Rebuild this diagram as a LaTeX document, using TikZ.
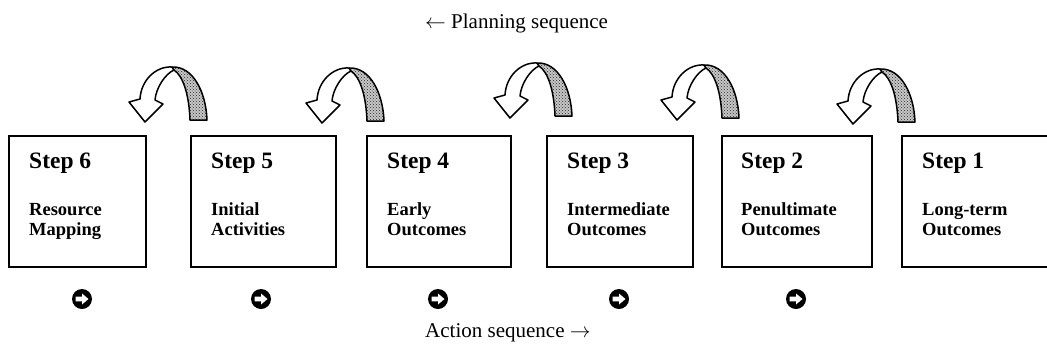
\documentclass[tikz,border=0pt]{standalone}
\usepackage{fontspec}
\setmainfont{Liberation Serif}
\usetikzlibrary{patterns}
\begin{document}
\begin{tikzpicture}[x=1pt,y=-1pt,
  stepbox/.style={draw=black, line width=1.6pt, minimum height=131pt, anchor=north west, inner sep=0pt},
  steptitle/.style={anchor=base west, inner sep=0pt, font=\fontsize{23.5}{26}\selectfont\bfseries},
  stepsub/.style={anchor=base west, inner sep=0pt, align=left, font=\fontsize{18.5}{20}\selectfont\bfseries},
  seqlabel/.style={anchor=base west, inner sep=0pt, font=\fontsize{21}{24}\selectfont},
  actdot/.style={circle, fill=black, minimum size=20pt, inner sep=0pt},
  uturn/.pic={
    \filldraw[fill=white, line width=1.5pt, line join=round]
      (27,-55) .. controls (11,-56) and (-4,-42) .. (-5,-23) -- (-16,-20) -- (0,0) -- (18,-18) -- (10,-22)
      .. controls (11,-34) and (20,-48) .. (29,-52) -- cycle;
    \fill[black!22]
      (27,-55) .. controls (48,-56) and (61,-30) .. (62,-2) -- (45,-2)
      .. controls (44,-28) and (38,-46) .. (29,-52) -- cycle;
    \filldraw[pattern=crosshatch dots, pattern color=black!85, line width=1.5pt, line join=round]
      (27,-55) .. controls (48,-56) and (61,-30) .. (62,-2) -- (45,-2)
      .. controls (44,-28) and (38,-46) .. (29,-52) -- cycle;
  }
]
\useasboundingbox (0,0) rectangle (1047,349);
\clip (0,0) rectangle (1047,349);

% labels
\node[seqlabel] (plan) at (425,28) {$\leftarrow$ Planning sequence};
\node[seqlabel] (act) at (425,337) {Action sequence $\rightarrow$};

% boxes
\node[stepbox, minimum width=137pt] (b6) at (8,135) {};
\node[stepbox, minimum width=145pt] (b5) at (190,135) {};
\node[stepbox, minimum width=144pt] (b4) at (366,135) {};
\node[stepbox, minimum width=146pt] (b3) at (546,135) {};
\node[stepbox, minimum width=150pt] (b2) at (721,135) {};
\node[stepbox, minimum width=170pt] (b1) at (901,135) {};

% box texts (multi-line nodes: base = last line)
\node[steptitle] (t6) at (29,168) {Step 6};
\node[stepsub] (s6) at (29,235) {Resource\\Mapping};
\node[steptitle] (t5) at (211,168) {Step 5};
\node[stepsub] (s5) at (211,235) {Initial\\Activities};
\node[steptitle] (t4) at (387,168) {Step 4};
\node[stepsub] (s4) at (387,235) {Early\\Outcomes};
\node[steptitle] (t3) at (567,168) {Step 3};
\node[stepsub] (s3) at (567,235) {Intermediate\\Outcomes};
\node[steptitle] (t2) at (741,168) {Step 2};
\node[stepsub] (s2) at (741,235) {Penultimate\\Outcomes};
\node[steptitle] (t1) at (922,168) {Step 1};
\node[stepsub] (s1) at (922,235) {Long-term\\Outcomes};

% curved planning arrows
\pic at (145,122) {uturn};
\pic at (322,123) {uturn};
\pic at (510,118) {uturn};
\pic at (677,120) {uturn};
\pic at (853,124) {uturn};

% action markers
\foreach \i/\x in {1/82,2/261,3/438,4/619,5/796} {
  \node[actdot] (act\i) at (\x,299) {};
  \fill[white, shift={(act\i.center)}]
    (-6.5,-2.3) -- (0,-2.3) -- (0,-5.5) -- (6.5,0) -- (0,5.5) -- (0,2.3) -- (-6.5,2.3) -- cycle;
}
\end{tikzpicture}
\end{document}
